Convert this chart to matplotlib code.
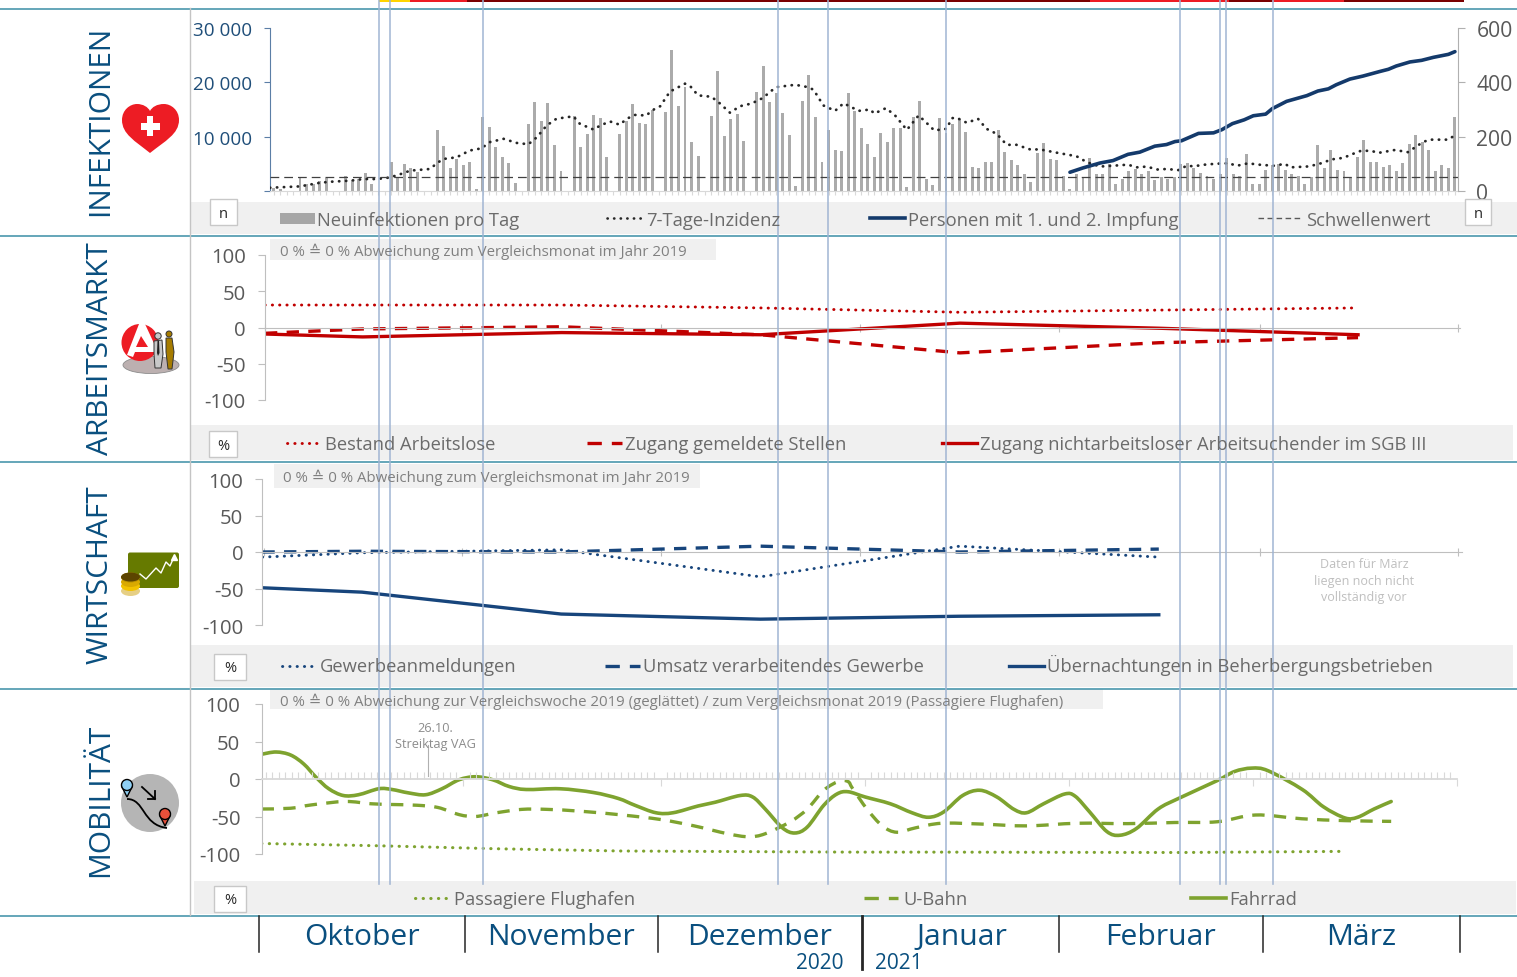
import numpy as np
import matplotlib
matplotlib.use("Agg")
import matplotlib.pyplot as plt
from matplotlib.lines import Line2D
from matplotlib.patches import Circle, Ellipse, FancyBboxPatch, PathPatch, Polygon, Rectangle
from matplotlib.path import Path

plt.rcParams["font.family"] = ["Open Sans", "DejaVu Sans"]
plt.rcParams["axes.unicode_minus"] = False

W, H = 1517, 978

months = ["Oktober", "November", "Dezember", "Januar", "Februar", "März"]
month_days = [31, 61, 92, 123, 151, 182]

# Neuinfektionen pro Tag, one value per day from 1 Oct
new_cases = [
    500, 400, 0, 0, 2500, 1200, 1300, 1800, 2400, 0, 0, 2700, 2000, 2300, 3300, 1300, 0, 0, 5400, 2500,
    5000, 4200, 3500, 0, 0, 11300, 8200, 4200, 5800, 4800, 5300, 300, 13600, 11700, 8100, 6200, 5200, 1500, 0, 12300,
    16400, 12900, 16200, 8500, 3700, 0, 13800, 8100, 10500, 14000, 13500, 6200, 0, 10400, 12900, 16000, 12600, 12400, 15000, 0,
    14600, 26000, 15600, 19200, 9000, 6400, 0, 13800, 22000, 10200, 13200, 14100, 9200, 0, 18300, 23000, 16400, 18100, 14400, 10300,
    900, 16500, 21400, 13700, 5300, 11300, 7500, 7300, 18100, 14800, 11600, 8600, 6200, 10600, 9100, 11600, 11600, 700, 13700, 16500,
    2200, 1100, 13500, 10700, 12400, 13300, 10800, 4400, 4300, 5300, 5300, 11200, 7100, 5700, 4700, 3100, 1700, 7000, 8900, 5900,
    5700, 2700, 300, 3100, 2500, 6000, 3100, 3100, 4900, 1350, 2200, 3700, 4100, 3100, 3700, 2000, 2500, 2200, 2500, 4900,
    5200, 4300, 3400, 2800, 2200, 3100, 6000, 3100, 2800, 6900, 1200, 1200, 3800, 4700, 4900, 3800, 3100, 2800, 1200, 2500,
    8400, 4300, 7600, 3900, 3700, 2500, 6300, 9300, 5400, 5400, 4400, 4800, 3600, 5200, 8600, 10300, 9100, 7600, 3700, 4800,
    4200, 13700,
]

inc_days = [-0.6, 4, 7, 8.6, 11.7, 13.7, 15.7, 17.3, 18.8, 20.9, 23.9, 25.2, 26, 28, 30, 31.8, 33.1, 35.2, 37.2, 39,
            40.3, 41.8, 43.3, 45.9, 46.9, 49, 50, 51.5, 53, 54.1, 55.3, 57.1, 57.9, 59.2, 60.7, 63, 63.8, 65, 67, 68,
            69.9, 71.4, 73.2, 74.9, 76.3, 77.2, 79.9, 81.7, 82.7, 84.2, 86, 87.3, 88.8, 89.6, 91.4, 92, 93.8, 95.2, 97, 98.8,
            99.8, 101.2, 103.1, 103.9, 104.6, 106.2, 107.9, 109.2, 110.8, 112.3, 113.8, 115.9, 117.4, 120.2, 123, 124.6, 126.6, 128.6, 130.9, 132.2,
            133.8, 135.3, 136.8, 138.6, 139.9, 140.9, 143, 145, 146.3, 147.6, 149.3, 150.9, 153.2, 155, 155.7, 158.3, 159.8, 161, 162, 163.9,
            165.4, 166.6, 168.2, 169.2, 171.8, 173.8, 174.9, 176.1, 177.1, 180, 180.9]
inc_values = [12, 17, 30, 34, 38, 44, 44, 48, 57, 75, 81, 106, 118, 124, 149, 157, 180, 192, 177, 172,
              198, 241, 266, 275, 247, 226, 241, 256, 244, 266, 280, 278, 296, 312, 366, 395, 386, 352, 347, 330,
              288, 312, 322, 342, 370, 383, 391, 383, 373, 315, 295, 323, 305, 295, 300, 285, 305, 278, 225, 278,
              256, 223, 229, 268, 270, 251, 266, 229, 210, 170, 170, 153, 153, 140, 128, 106, 90, 93, 97, 87,
              90, 79, 81, 77, 93, 91, 98, 101, 102, 93, 102, 97, 93, 100, 87, 90, 97, 106, 116, 122,
              137, 148, 148, 140, 151, 143, 161, 180, 189, 189, 204]

vac_days = [122, 124, 126.6, 128.6, 130.9, 132.7, 135, 136.8, 138.1, 139.1, 141.7, 144, 145.3, 146.9, 148.7, 150.1, 152, 153,
            155.2, 158.3, 160, 161.6, 162.8, 164.9, 166.9, 169.5, 170.8, 172, 174.1, 175.9, 177.7, 180, 181]
vac_values = [69, 85, 103, 112, 135, 143, 165, 171, 182, 185, 212, 214, 226, 248, 262, 277, 283, 303,
              330, 351, 368, 376, 391, 412, 423, 440, 448, 460, 475, 481, 492, 503, 513]
threshold = 50

# Arbeitsmarkt, first point is the start of the axis, then mid month
job_pos = [-0.49, 0, 1, 2, 3, 4, 5]
unemployed = [31, 31, 31, 27, 21, 24, 27]
job_vacancies = [-8, -2, 1, -10, -35, -21, -14]
job_seekers = [-9, -13, -7, -10, 6, -1, -10]

# Wirtschaft
econ_pos = [-0.5, 0, 1, 2, 3, 4]
registrations = [-7, -1, 3, -34, 8, -7]
turnover = [0, 1, 0, 8, 0, 4]
overnight = [-49, -55, -85, -92, -88, -86]

# Mobilitaet
bike_days = [0.4, 2.6, 4.8, 6.8, 8.7, 10.6, 12.8, 15.1, 18.2, 20.2, 22.7, 25.3, 27.8, 30.4, 32.9, 35.5, 38, 40.6, 45.7, 50.8,
             54.6, 57.1, 60.3, 62.9, 66.7, 69.3, 73.1, 75, 76.9, 79.5, 81.4, 83.3, 85.8, 87.8, 89.5, 92.1, 95.9, 99.2, 101.7, 104,
             106.9, 109.5, 112.1, 114.7, 116.6, 119.2, 122.4, 124, 126.2, 128.8, 130.8, 133.3, 136.6, 139.8, 145.6, 148.2, 150.8, 153.3, 158.5, 161.7,
             165, 166.9, 169.4, 172]
bike = [33, 36, 32, 20, 2, -13, -22, -21, -13, -14, -18.5, -21, -13, -1, 3, -1, -10, -14, -13, -18,
        -26, -35, -45, -45, -36, -31, -22, -24, -40, -65, -72, -64, -35, -20, -17, -24, -33, -45, -51, -44,
        -22, -15, -24, -40.5, -45, -33, -20, -23, -44, -70, -75, -66, -40, -25.5, -2, 10, 14.5, 11, -14, -37,
        -52, -51, -40, -30]

ubahn_days = [0.4, 4.8, 8, 13.1, 17, 20.2, 24, 27.2, 30.4, 32.9, 36.1, 39.9, 43.8, 48.9, 55.2, 61, 66.1, 71.2, 74.4, 76.9,
              80.7, 83.3, 85.8, 88.1, 89.5, 90.2, 92.4, 94.7, 96.9, 99.8, 103.7, 109.5, 116.6, 124.3, 132, 139.1, 145.6, 151.4, 158.4, 165,
              172]
ubahn = [-40, -39, -34.5, -30, -33, -34, -35, -38, -47.5, -50, -45, -40.5, -40.5, -43, -48, -54, -62.5, -73, -77, -73,
         -57, -40, -15, -3, -3.5, -13, -40.5, -62.5, -71, -65, -59, -60, -62.5, -59, -59.5, -58, -57, -48, -53, -55.5,
         -56.5]

air_days = [0.4, 18, 36, 55, 90, 104, 140, 165]
air = [-86, -89, -93, -96, -97.5, -97.5, -98, -96.5]

# dates of the measures, as x pixel in the reference time bar
event_lines = [379, 390, 483, 778, 828, 946, 1180, 1220, 1226, 1273]

GREY = "#6b6b6b"
BLUE = "#0a4f7f"
NAVY = "#143a6b"
NAVY2 = "#17457c"
RED = "#c00000"
GREEN = "#7ea32f"
BAND = "#f0f0f0"
TEAL = "#4a97ad"
DOTS = (0, (0.1, 2.4))
DASH = (0, (3.7, 2.8))


def panel(left, top, right, bottom):
    a = fig.add_axes([left / W, 1 - bottom / H, (right - left) / W, (bottom - top) / H], zorder=2)
    a.patch.set_alpha(0)
    return a


def smooth(a, xs, ys, **kw):
    # excel style smoothed line through the read points
    p = np.column_stack([xs, ys])
    q = np.vstack([p[0], p, p[-1]])
    verts = [p[0]]
    for i in range(1, len(q) - 2):
        verts += [q[i] + (q[i + 1] - q[i - 1]) / 6, q[i + 1] - (q[i + 2] - q[i]) / 6, q[i + 1]]
    codes = [Path.MOVETO] + [Path.CURVE4] * (len(verts) - 1)
    a.add_patch(PathPatch(Path(verts, codes), fill=False, **kw))


fig = plt.figure(figsize=(W / 100, H / 100), dpi=100)

bg = fig.add_axes([0, 0, 1, 1], zorder=0)
fg = fig.add_axes([0, 0, 1, 1], zorder=5)
for a in (bg, fg):
    a.set_xlim(0, W)
    a.set_ylim(H, 0)
    a.axis("off")
fg.patch.set_alpha(0)

# bands behind the panels
for x0, y0, x1, y1 in [(191, 203, 1517, 235), (191, 426, 1513, 461), (191, 646, 1513, 688), (194, 882, 1516, 915),
                       (270, 240, 716, 261), (274, 465, 700, 489), (270, 690, 1103, 710)]:
    bg.add_patch(Rectangle((x0, y0), x1 - x0, y1 - y0, fc=BAND, ec="none"))
for y in [9.5, 236.5, 462.5, 689.5, 916.5]:
    bg.plot([0, W], [y, y], color=TEAL, lw=1.2)
bg.plot([190.5, 190.5], [9, 916], color="#c4c4c4", lw=1)

# time bar
for x0, x1, c in [(379, 410, "#ffd400"), (410, 467, "#ed1c24"), (467, 1090, "#7a0000"), (1090, 1229, "#ed1c24"),
                  (1229, 1272, "#7a0000"), (1272, 1344, "#ed1c24"), (1344, 1464, "#7a0000")]:
    bg.add_patch(Rectangle((x0, 0), x1 - x0, 2.5, fc=c, ec="none"))

# INFEKTIONEN
ax1 = panel(270, 29, 1458, 192)
ax1.bar(range(len(new_cases)), new_cases, width=0.45, color="#ababab")
ax1.set_xlim(-0.6, 181.47)
ax1.set_ylim(0, 30000)
ax1.set_yticks([0, 10000, 20000, 30000], ["", "10 000", "20 000", "30 000"])
ax1.tick_params(axis="y", labelsize=13.6, labelcolor="#1f4e79", color="#5b7ea6", length=4.3, pad=8.6)
ax1.set_xticks(range(182), [])
ax1.tick_params(axis="x", color="#d9d9d9", length=3, width=0.8)
for s in ("top", "right"):
    ax1.spines[s].set_visible(False)
ax1.spines["left"].set_color("#5b7ea6")
ax1.spines["bottom"].set_color("#d9d9d9")

ax1r = ax1.twinx()
ax1r.patch.set_alpha(0)
ax1r.plot(inc_days, inc_values, color="#262626", lw=2.0, ls=DOTS, dash_capstyle="round")
ax1r.plot(vac_days, vac_values, color=NAVY, lw=2.6, solid_capstyle="round")
ax1r.axhline(threshold, color="#404040", lw=0.9, ls=(0, (7, 4)))
ax1r.set_ylim(0, 600)
ax1r.set_yticks([0, 200, 400, 600])
ax1r.tick_params(axis="y", labelsize=15.2, labelcolor="#595959", color="#b0b0b0", length=4.8, pad=8.5)
for s in ("top", "left", "bottom"):
    ax1r.spines[s].set_visible(False)
ax1r.spines["right"].set_color("#b0b0b0")

# ARBEITSMARKT
ax2 = panel(265, 256, 1460, 401)
ax2.plot(job_pos, unemployed, color=RED, lw=2.1, ls=DOTS, dash_capstyle="round")
ax2.plot(job_pos, job_vacancies, color=RED, lw=2.4, ls=DASH)
ax2.plot(job_pos, job_seekers, color=RED, lw=2.4)

# WIRTSCHAFT
ax3 = panel(262, 480, 1462, 626)
ax3.plot(econ_pos, registrations, color=NAVY2, lw=2.1, ls=DOTS, dash_capstyle="round")
ax3.plot(econ_pos, turnover, color=NAVY2, lw=2.4, ls=DASH)
ax3.plot(econ_pos, overnight, color=NAVY2, lw=2.4)

for a, left, right, pad in [(ax2, 265, 1460, 9), (ax3, 262, 1462, 8.6)]:
    a.set_xlim((left - 362) / 199.2, (right - 362) / 199.2)
    a.set_ylim(-100, 100)
    a.set_yticks([-100, -50, 0, 50, 100])
    a.set_xticks([-0.49, 0.5, 1.5, 2.5, 3.5, 4.51, 5.5], [])
    a.tick_params(axis="y", labelsize=14.6, labelcolor="#595959", color="#bfbfbf", length=4.8, pad=pad)
    a.tick_params(axis="x", direction="inout", color="#bfbfbf", length=6)
    a.spines["bottom"].set_position(("data", 0))
    a.spines["bottom"].set_color("#bfbfbf")
    a.spines["left"].set_color("#bfbfbf")
    for s in ("top", "right"):
        a.spines[s].set_visible(False)

# MOBILITAET
ax4 = panel(261.5, 705, 1457, 855)
ax4.plot(air_days, air, color=GREEN, lw=2.2, ls=DOTS, dash_capstyle="round")
smooth(ax4, ubahn_days, ubahn, edgecolor=GREEN, lw=2.4, ls=DASH)
smooth(ax4, bike_days, bike, edgecolor=GREEN, lw=2.6, joinstyle="round", capstyle="round")
ax4.set_xlim(0.38, 181.5)
ax4.set_ylim(-100, 100)
ax4.set_yticks([-100, -50, 0, 50, 100])
ax4.tick_params(axis="y", labelsize=14.6, labelcolor="#595959", color="#bfbfbf", length=4.8, pad=10.4)
ax4.set_xticks(month_days, [])
ax4.set_xticks(range(1, 182), minor=True)
ax4.tick_params(axis="x", which="major", direction="out", color="#d9d9d9", length=5)
ax4.tick_params(axis="x", which="minor", direction="in", color="#d9d9d9", length=5, width=0.8)
ax4.spines["bottom"].set_position(("data", 0))
ax4.spines["bottom"].set_color("#d9d9d9")
ax4.spines["bottom"].set_linewidth(1.3)
ax4.spines["left"].set_color("#bfbfbf")
for s in ("top", "right"):
    ax4.spines[s].set_visible(False)

# side titles
for label, yc in [("INFEKTIONEN", 120.5), ("ARBEITSMARKT", 348.5), ("WIRTSCHAFT", 575), ("MOBILITÄT", 800.5)]:
    fg.text(100.5, yc, label, rotation=90, ha="center", va="center", fontsize=21.5, color=BLUE)

# unit boxes
for x0, y0, x1, y1, t in [(210, 200, 237, 226, "n"), (1465, 200, 1491, 226, "n"), (209, 432, 237, 458, "%"),
                          (214, 655, 246, 681, "%"), (214, 887, 246, 913, "%")]:
    fg.add_patch(Rectangle((x0, y0), x1 - x0, y1 - y0, fc="white", ec="#c8c8c8", lw=1))
    fg.text((x0 + x1) / 2, (y0 + y1) / 2 + 1, t, ha="center", va="center", fontsize=10.5, color="#262626")


# legends
def leg_line(x0, x1, y, **kw):
    fg.add_line(Line2D([x0, x1], [y, y], **kw))


def leg_text(x, y, t):
    fg.text(x, y, t, ha="left", va="baseline", fontsize=13.2, color=GREY)


fg.add_patch(Rectangle((280, 214), 35, 11, fc="#a6a6a6", ec="none"))
leg_text(317, 225.5, "Neuinfektionen pro Tag")
leg_line(607, 642, 219, color="#262626", lw=1.9, ls=DOTS, dash_capstyle="round")
leg_text(646, 225.5, "7-Tage-Inzidenz")
leg_line(870, 905, 219, color=NAVY, lw=2.6)
leg_text(908, 225.5, "Personen mit 1. und 2. Impfung")
leg_line(1258, 1302, 219, color="#595959", lw=1, ls=(0, (4, 2.5)))
leg_text(1306, 225.5, "Schwellenwert")

leg_line(287, 322, 444, color=RED, lw=2.1, ls=DOTS, dash_capstyle="round")
leg_text(325, 450.5, "Bestand Arbeitslose")
leg_line(587, 622, 444, color=RED, lw=2.4, ls=(0, (4.3, 3)))
leg_text(625, 450.5, "Zugang gemeldete Stellen")
leg_line(942, 977, 444, color=RED, lw=2.4)
leg_text(980, 450.5, "Zugang nichtarbeitsloser Arbeitsuchender im SGB III")

leg_line(282, 317, 667, color=NAVY2, lw=2.1, ls=DOTS, dash_capstyle="round")
leg_text(320, 672.5, "Gewerbeanmeldungen")
leg_line(605, 640, 667, color=NAVY2, lw=2.4, ls=(0, (4.3, 3)))
leg_text(643, 672.5, "Umsatz verarbeitendes Gewerbe")
leg_line(1009, 1044, 667, color=NAVY2, lw=2.4)
leg_text(1047, 672.5, "Übernachtungen in Beherbergungsbetrieben")

leg_line(415, 450, 899, color=GREEN, lw=2.2, ls=DOTS, dash_capstyle="round")
leg_text(454, 905, "Passagiere Flughafen")
leg_line(864, 898, 899, color=GREEN, lw=2.4, ls=(0, (4.3, 3)))
leg_text(903, 905, "U-Bahn")
leg_line(1191, 1226, 899, color=GREEN, lw=2.6)
leg_text(1229, 905, "Fahrrad")

# notes
note1 = "0 % ≙ 0 % Abweichung zum Vergleichsmonat im Jahr 2019"
note2 = "0 % ≙ 0 % Abweichung zur Vergleichswoche 2019 (geglättet) / zum Vergleichsmonat 2019 (Passagiere Flughafen)"
fg.text(280, 256, note1, va="baseline", fontsize=10.8, color="#808080")
fg.text(283, 482, note1, va="baseline", fontsize=10.8, color="#808080")
fg.text(280, 706, note2, va="baseline", fontsize=10.8, color="#808080")
fg.text(435, 736.5, "26.10.\nStreiktag VAG", ha="center", va="center", fontsize=9.2, color="#8c8c8c", linespacing=1.3)
fg.plot([428, 428], [746, 777], color="#b0b0b0", lw=0.8)
fg.text(1364, 581, "Daten für März\nliegen noch nicht\nvollständig vor", ha="center", va="center", fontsize=9,
        color="#bfbfbf", linespacing=1.35)

# months
for name, xc in zip(months, [362, 561, 760, 962, 1161, 1361]):
    fg.text(xc, 945, name, ha="center", va="baseline", fontsize=21.6, color=BLUE)
for x in [259, 465, 658, 1059, 1263, 1460]:
    fg.plot([x, x], [917, 953], color="#262626", lw=1.1)
fg.plot([862.5, 862.5], [917, 970], color="#262626", lw=2)
fg.text(844, 969, "2020", ha="right", va="baseline", fontsize=15, color=BLUE)
fg.text(875, 969, "2021", ha="left", va="baseline", fontsize=15, color=BLUE)

# event lines
for x in event_lines:
    fg.plot([x, x], [0, 885], color="#9fb4d2", lw=1.2, alpha=0.9)

# heart icon
heart = Path([(150, 154), (135, 142), (122, 135), (122, 121), (122, 111), (130, 105), (137, 105), (143, 105), (148, 108),
              (150, 112), (152, 108), (157, 105), (164, 105), (171, 105), (179, 111), (179, 121), (179, 135), (165, 142),
              (150, 154)],
             [Path.MOVETO] + [Path.CURVE4] * 18)
fg.add_patch(PathPatch(heart, fc="#ed1c24", ec="none"))
fg.add_patch(Rectangle((147, 117), 6.5, 20, fc="white", ec="none"))
fg.add_patch(Rectangle((141, 124), 19, 6.5, fc="white", ec="none"))

# Arbeitsagentur icon
fg.add_patch(Ellipse((151, 366), 56, 17, fc="#bcb0b0", ec="#8c8c8c", lw=0.6))
fg.add_patch(Circle((140, 343.5), 18.5, fc="#ed1c24", ec="none"))
fg.add_patch(Polygon([(139, 325), (145, 325), (158, 353), (135, 353), (133, 358), (127, 356), (139, 325)], fc="white", ec="none"))
fg.add_patch(Polygon([(141, 337), (136, 348), (148, 348)], fc="#ed1c24", ec="none"))
fg.add_patch(Circle((158, 337), 3.2, fc="#c8c8c8", ec="#333333", lw=0.7))
fg.add_patch(Polygon([(154, 342), (162, 341), (163, 355), (161, 369), (155, 369), (154, 355)], fc="#c8c8c8", ec="#333333", lw=0.7))
fg.add_patch(Polygon([(157.5, 342), (159, 342), (159.5, 354), (158, 357), (157, 354)], fc="#222222", ec="none"))
fg.add_patch(Circle((169, 335), 3, fc="#a67c00", ec="#333333", lw=0.7))
fg.add_patch(Polygon([(166, 339), (172, 339), (174, 353), (172, 370), (168, 370), (166, 353)], fc="#a67c00", ec="#333333", lw=0.7))

# Wirtschaft icon
fg.add_patch(FancyBboxPatch((128, 553.5), 51, 35.5, boxstyle="round,pad=0,rounding_size=2", fc="#667a00", ec="none"))
fg.plot([140, 146, 156, 161, 166, 170, 174], [575, 580, 569, 574, 563, 567, 558], color="white", lw=1)
fg.plot([174], [558], marker="^", ms=4, color="white")
for yc, c in [(592, "#e6cf85"), (587, "#f2c200"), (583, "#d9a900"), (578.5, "#b88f00")]:
    fg.add_patch(Ellipse((130.5, yc), 19, 10, fc=c, ec="none"))
fg.add_patch(Ellipse((130.5, 578), 19, 9, fc="#5c4400", ec="none"))

# Mobilitaet icon
fg.add_patch(Circle((150, 804), 29, fc="#b5b5b5", ec="none"))
route = Path([(127, 800), (145, 800), (142, 826), (167, 829)], [Path.MOVETO, Path.CURVE4, Path.CURVE4, Path.CURVE4])
fg.add_patch(PathPatch(route, fc="none", ec="black", lw=1.3))
fg.plot([142, 155], [788, 800], color="black", lw=1.3)
fg.plot([155, 155, 148], [792, 800, 800], color="black", lw=1.3)
for xc, yc, c in [(127, 786, "#8fd0f5"), (165, 815, "#e8503a")]:
    fg.add_patch(Polygon([(xc - 5.5, yc + 1), (xc, yc + 12), (xc + 5.5, yc + 1)], fc=c, ec="black", lw=1))
    fg.add_patch(Circle((xc, yc), 5.5, fc=c, ec="black", lw=1))

plt.savefig("out.png", dpi=100)
